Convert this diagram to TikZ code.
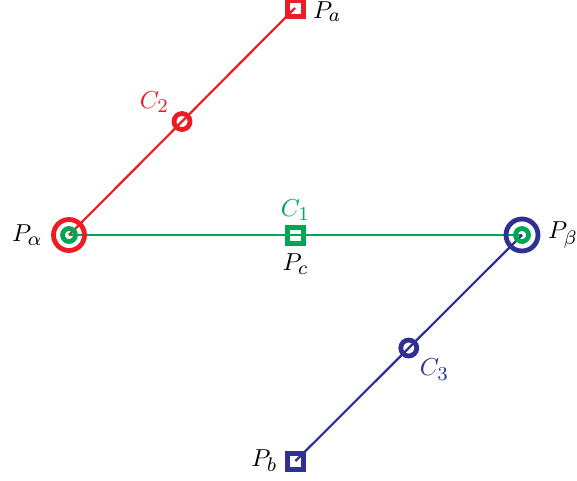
\documentclass[tikz,border=0pt]{standalone}
\usepackage{amsmath}
\DeclareMathSizes{10}{10}{8}{6}
\usetikzlibrary{positioning,calc}
\definecolor{linkRed}  {HTML}{ED1C24}
\definecolor{linkGreen}{HTML}{00A651}
\definecolor{linkBlue} {HTML}{2E3192}

\begin{document}
\begin{tikzpicture}[x=1pt, y=-1pt,
    link/.style={line width=2.2pt},
    ring/.style={circle, draw, line width=4.8pt, inner sep=0pt, minimum size=#1},
    box/.style={rectangle, draw, line width=5pt, inner sep=0pt, minimum size=16pt},
    lbl/.style={inner sep=0.5pt, scale=2.45}]
  \useasboundingbox (0,0) rectangle (577,480);
  % joint positions
  \coordinate (Palpha) at (69,235);
  \coordinate (Pbeta)  at (522,235);
  \coordinate (Pc)     at (295.5,235);
  \coordinate (Pa)     at (295,8);
  \coordinate (Pb)     at (295.5,461);
  \coordinate (C2)     at ($(Palpha)!0.5!(Pa)$);
  \coordinate (C3)     at ($(Pbeta)!0.5!(Pb)$);
  % links
  \draw[link, linkRed]   (Palpha) -- (Pa);
  \draw[link, linkGreen] (Palpha) -- (Pbeta);
  \draw[link, linkBlue]  (Pbeta) -- (Pb);
  % markers
  \node[ring=31pt, linkRed]   (mPalpha) at (Palpha) {};
  \node[ring=13pt, linkGreen] (iPalpha) at (Palpha) {};
  \node[ring=32pt, linkBlue]  (mPbeta)  at (Pbeta) {};
  \node[ring=13pt, linkGreen] (iPbeta)  at (Pbeta) {};
  \node[ring=16pt, linkRed]   (mC2)     at (C2) {};
  \node[ring=16pt, linkBlue]  (mC3)     at (C3) {};
  \node[box, linkRed]   (mPa) at (Pa) {};
  \node[box, linkGreen] (mPc) at (Pc) {};
  \node[box, linkBlue]  (mPb) at (Pb) {};
  % labels
  \node[lbl, right=6pt of mPa, yshift=-1.5pt] (lPa) {$P_a$};
  \node[lbl, left=7pt of mPalpha] (lPalpha) {$P_\alpha$};
  \node[lbl, right=6pt of mPbeta] (lPbeta) {$P_\beta$};
  \node[lbl, below=7pt of mPc] (lPc) {$P_c$};
  \node[lbl, linkGreen, above=2pt of mPc] (lC1) {$C_1$};
  \node[lbl, linkRed, above left=0pt and 4pt of mC2] (lC2) {$C_2$};
  \node[lbl, linkBlue, below right=2pt and 2pt of mC3] (lC3) {$C_3$};
  \node[lbl, left=6pt of mPb] (lPb) {$P_b$};
\end{tikzpicture}
\end{document}
